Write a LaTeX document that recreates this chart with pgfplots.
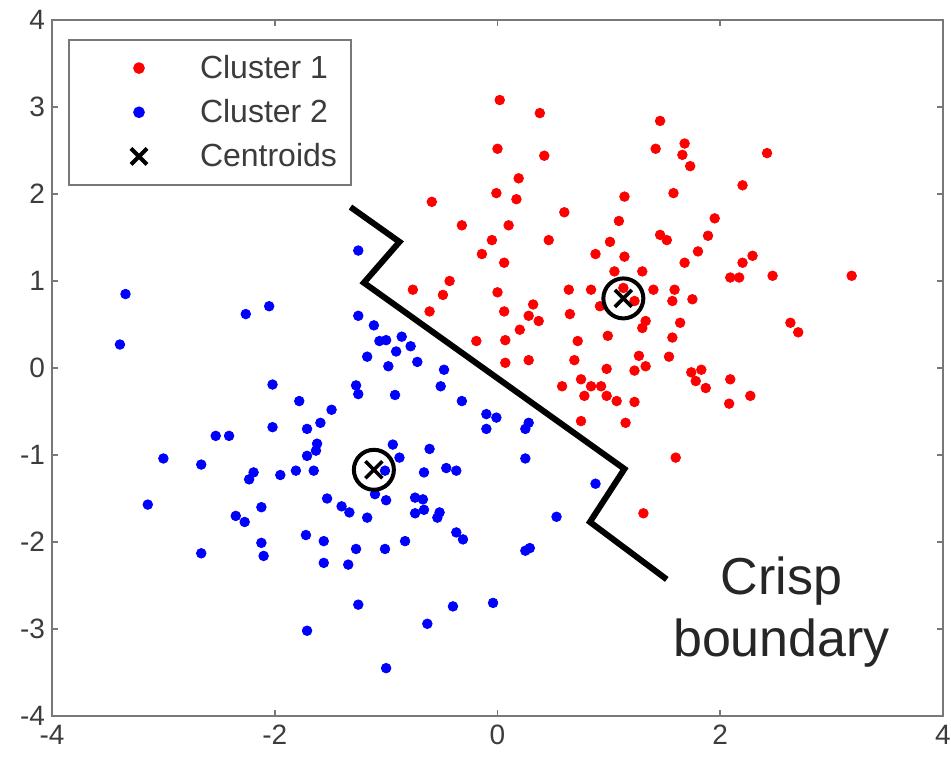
\documentclass[border=0pt]{standalone}
\usepackage{pgfplots}
\pgfplotsset{compat=1.18}
\usepackage{fontspec}
\setmainfont{Liberation Sans}
\definecolor{axgray}{RGB}{120,120,120}
\definecolor{txtgray}{RGB}{60,60,60}
\begin{document}
\begin{tikzpicture}
\begin{axis}[
  name=ax, at={(0,0)}, anchor=south west,
  scale only axis, width=445.5pt, height=348pt,
  xmin=-4, xmax=4, ymin=-4, ymax=4,
  xtick={-4,-2,0,2,4}, ytick={-4,-3,...,4},
  tick align=inside, major tick length=3pt,
  xtick pos=both, ytick pos=both,
  axis line style={axgray, line width=1.1pt},
  tick style={axgray, line width=0.8pt},
  ticklabel style={font=\fontsize{14}{16}\selectfont, text=txtgray},
  /pgf/number format/assume math mode=true,
  xticklabel shift=1pt, yticklabel shift=0pt,
  clip=false,
  legend style={at={(0,1)}, anchor=north west, xshift=8pt, yshift=-9.5pt,
    draw=axgray, line width=1pt, font=\fontsize{16}{19}\selectfont,
    text=txtgray, inner xsep=5.5pt, inner ysep=6pt, row sep=6pt,
    nodes={inner sep=1.5pt}},
  legend cell align=left,
  legend image code/.code={\path[draw=none,fill=none] (0pt,-5pt) rectangle (58.5pt,5pt);
    \draw[#1] plot coordinates {(29.5pt,0pt)};},
]
\addplot[only marks, mark=*, mark size=2.4pt, color=red] coordinates {
(0.02,3.08) (0.38,2.93) (1.46,2.84) (0.00,2.52) (0.42,2.44) (1.42,2.52)
(1.68,2.58) (1.66,2.45) (1.73,2.32) (2.42,2.47) (0.19,2.18) (-0.01,2.01)
(0.17,1.94) (-0.59,1.91) (1.14,1.97) (1.58,2.01) (2.20,2.10) (0.60,1.79)
(-0.32,1.64) (0.10,1.64) (1.09,1.69) (1.95,1.72) (-0.05,1.47) (0.46,1.47)
(1.01,1.45) (1.46,1.53) (1.52,1.47) (1.89,1.52) (-0.14,1.31) (0.06,1.21)
(0.88,1.31) (1.14,1.28) (1.80,1.34) (1.68,1.21) (2.29,1.29) (2.20,1.21)
(1.05,1.11) (1.30,1.11) (2.47,1.06) (2.09,1.04) (2.17,1.04) (-0.43,1.00)
(-0.76,0.90) (-0.49,0.84) (-0.61,0.65) (0.00,0.87) (0.64,0.90) (0.84,0.90)
(1.40,0.90) (1.13,0.92) (1.23,0.77) (0.92,0.71) (1.59,0.90) (1.57,0.77)
(1.75,0.79) (0.06,0.65) (0.32,0.73) (0.28,0.60) (0.37,0.54) (0.20,0.44)
(0.65,0.62) (1.33,0.54) (1.30,0.46) (1.64,0.52) (2.63,0.52) (2.70,0.41)
(-0.19,0.31) (0.07,0.32) (0.72,0.31) (0.99,0.37) (1.57,0.35) (0.07,0.06)
(0.28,0.09) (0.69,0.09) (1.27,0.14) (1.33,0.02) (1.23,-0.03) (1.54,0.13)
(0.98,-0.01) (0.58,-0.21) (0.75,-0.13) (0.84,-0.21) (0.78,-0.32) (0.93,-0.21)
(0.98,-0.32) (1.07,-0.38) (1.23,-0.39) (0.75,-0.61) (1.15,-0.63) (1.74,-0.05)
(1.83,-0.02) (1.78,-0.15) (1.87,-0.23) (2.09,-0.13) (2.27,-0.32) (2.08,-0.41)
(1.60,-1.03) (1.31,-1.67) (3.18,1.06)
};
\addlegendentry{Cluster 1}
\addplot[only marks, mark=*, mark size=2.4pt, color=blue] coordinates {
(-1.25,1.35) (-3.34,0.85) (-3.39,0.27) (-2.26,0.62) (-2.05,0.71) (-1.25,0.60)
(-1.11,0.49) (-1.06,0.31) (-1.00,0.32) (-0.86,0.36) (-0.78,0.25) (-1.17,0.13)
(-0.91,0.19) (-0.98,0.02) (-2.02,-0.19) (-1.27,-0.20) (-1.25,-0.30) (-0.92,-0.31)
(-1.78,-0.38) (-1.49,-0.48) (-1.59,-0.63) (-2.02,-0.68) (-1.71,-0.70) (-2.53,-0.78)
(-2.41,-0.78) (-3.00,-1.04) (-2.66,-1.11) (-1.62,-0.87) (-1.63,-0.95) (-1.71,-1.01)
(-2.19,-1.20) (-2.23,-1.28) (-1.95,-1.23) (-1.81,-1.18) (-1.65,-1.18) (-0.94,-0.88)
(-0.88,-1.03) (-1.01,-1.18) (-1.10,-1.45) (-1.00,-1.52) (-0.74,-1.49) (-0.74,-1.67)
(-3.14,-1.57) (-2.12,-1.60) (-2.35,-1.70) (-2.27,-1.77) (-1.53,-1.50) (-1.40,-1.59)
(-1.33,-1.66) (-1.17,-1.72) (-1.72,-1.92) (-1.56,-1.99) (-2.12,-2.01) (-2.10,-2.16)
(-2.66,-2.13) (-1.56,-2.24) (-1.34,-2.26) (-1.27,-2.08) (-1.01,-2.08) (-0.83,-1.99)
(-1.25,-2.72) (-1.71,-3.02) (-1.00,-3.45) (-0.51,-0.21) (-0.32,-0.38) (-0.61,-0.93)
(-0.66,-1.20) (-0.46,-1.15) (-0.37,-1.18) (-0.67,-1.51) (-0.66,-1.63) (-0.52,-1.66)
(-0.54,-1.72) (-0.37,-1.89) (-0.31,-1.97) (-0.10,-0.53) (-0.01,-0.57) (-0.10,-0.70)
(0.28,-0.63) (0.25,-0.70) (0.25,-1.04) (0.88,-1.33) (0.53,-1.71) (0.25,-2.10)
(0.29,-2.07) (-0.40,-2.74) (-0.04,-2.70) (-0.63,-2.94) (-0.72,0.07) (-0.48,-0.02)
};
\addlegendentry{Cluster 2}
\addplot[only marks, mark=x, mark size=6pt, line width=1.8pt, color=black,
  legend image code/.code={\path[draw=none,fill=none] (0pt,-5pt) rectangle (58.5pt,5pt);
    \draw[black, line width=2pt] (25.5pt,-4pt) -- (33.5pt,4pt) (25.5pt,4pt) -- (33.5pt,-4pt);}] coordinates {
(1.13,0.80) (-1.11,-1.17)
};
\addlegendentry{Centroids}
\addplot[forget plot, only marks, mark=o, mark size=10pt, line width=2pt, color=black] coordinates {
(1.13,0.80) (-1.11,-1.17)
};
\addplot[forget plot, black, line width=3pt, line join=miter] coordinates {
(-1.32,1.85) (-0.88,1.45) (-1.20,0.98) (1.14,-1.16) (0.83,-1.77) (1.52,-2.43)
};
\node[align=center, font=\fontsize{26}{31}\selectfont, text=black!85] at (axis cs:2.55,-2.80) {Crisp\\boundary};
\end{axis}
\pgfresetboundingbox
\path (ax.south west) ++(-26pt,-22pt) rectangle ++(475.5pt,380pt);
\end{tikzpicture}
\end{document}
